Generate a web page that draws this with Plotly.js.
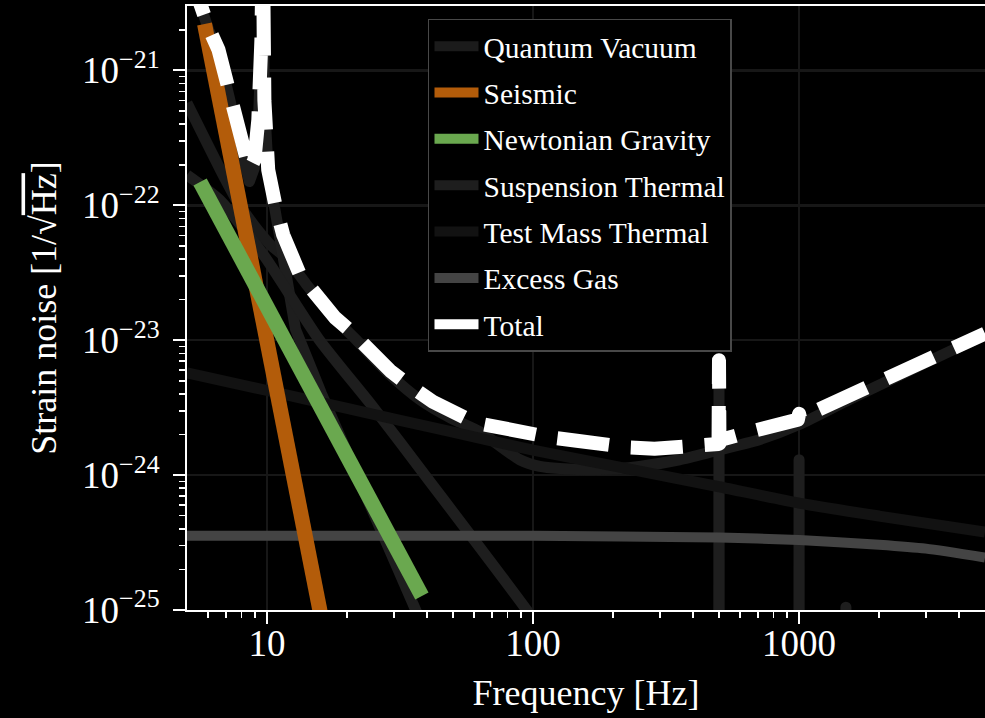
<!DOCTYPE html>
<html>
<head>
<meta charset="utf-8">
<script src="https://cdn.plot.ly/plotly-3.0.1.min.js"></script>
<style>
  html, body { margin: 0; padding: 0; background: #000; }
  #chart { width: 985px; height: 718px; }
  .scatterlayer path.js-line { stroke-linejoin: round !important; }
</style>
</head>
<body>
<div id="chart"></div>
<script>
// ---------------- data ----------------
const quantumF = [5, 6.68, 7.67, 8.89, 10.3, 11.8, 14.0, 17.3, 21.6, 29.0, 37.6, 48.7, 63.1, 89.1, 106, 126, 178, 251, 355, 471, 708, 1000, 1538, 2371, 3648, 5000];
const quantumV = [5.74e-22, 1.83e-22, 1.10e-22, 7.2e-23, 5.1e-23, 4.08e-23, 2.62e-23, 1.57e-23, 1.01e-23, 5.55e-24, 3.62e-24, 2.67e-24, 2.10e-24, 1.30e-24, 1.16e-24, 1.12e-24, 1.10e-24, 1.16e-24, 1.30e-24, 1.49e-24, 1.83e-24, 2.37e-24, 3.62e-24, 5.46e-24, 8.2e-24, 1.09e-23];

const seismicF = [5.82, 7, 8, 10, 12, 14, 15.9];
const seismicV = [2.21e-21, 3.48e-22, 9.1e-23, 9.7e-24, 1.56e-24, 3.3e-25, 9.3e-26];

const newtonF = [5.6, 8, 10, 15, 20, 30, 38.2];
const newtonV = [1.49e-22, 4.02e-23, 1.77e-23, 3.97e-24, 1.38e-24, 3.1e-25, 1.27e-25];

const suspF = [5, 5.53, 6.03, 6.57, 7.1, 7.67, 8.22, 8.58, 8.96, 9.27, 9.52, 9.64, 9.77, 10.1, 10.74, 11.5, 12.8, 16, 20.5, 27, 34.5, 50, 100, 300, 498, 500, 502, 997, 1000, 1003, 1497, 1500, 1503, 5000];
const suspV = [6e-21, 3.1e-21, 2.0e-21, 1.35e-21, 7.0e-22, 3.8e-22, 2.1e-22, 1.5e-22, 1.9e-22, 4.0e-22, 1.65e-21, 1e-20, 5.9e-22, 1.75e-22, 9.0e-23, 4.0e-23, 1.2e-23, 4.04e-24, 1.22e-24, 3.24e-25, 1.0e-25, 1.5e-26, 1e-27, 1e-28, 1e-28, 6.9e-24, 1e-28, 1e-28, 1.3e-24, 1e-28, 1e-28, 1.05e-25, 1e-28, 1e-28];

const suspVertF = [5, 6.62, 9.69, 15.7, 25.0, 39.6, 94.6, 120];
const suspVertV = [1.68e-22, 1.1e-22, 4.3e-23, 1.01e-23, 3.21e-24, 9.75e-25, 1.0e-25, 5e-26];

const testMassF = [5, 10, 20, 50, 100, 200, 500, 1000, 2000, 5000];
const testMassV = [5.74e-24, 4.24e-24, 3.12e-24, 2.08e-24, 1.53e-24, 1.17e-24, 8.2e-25, 6.2e-25, 4.97e-25, 3.78e-25];

const gasF = [5, 100, 500, 1000, 2000, 3000, 5000];
const gasV = [3.55e-25, 3.55e-25, 3.45e-25, 3.3e-25, 3.05e-25, 2.85e-25, 2.45e-25];

const totalF = [5, 5.53, 6.03, 6.57, 7.1, 7.67, 8.22, 8.58, 8.96, 9.27, 9.52, 9.64, 9.77, 10.1, 10.74, 11.5, 13.3, 15.6, 18.0, 20.9, 24.8, 29.0, 33.9, 42.0, 60.4, 78.3, 117, 146, 184, 232, 286, 355, 452, 498, 500, 502, 509, 638, 805, 933, 990, 1000, 1010, 1071, 1364, 1607, 2432, 2940, 4450, 5000];
const totalV = [6e-21, 3.2e-21, 2.07e-21, 1.42e-21, 7.4e-22, 4.08e-22, 2.37e-22, 1.83e-22, 2.17e-22, 4.3e-22, 1.68e-21, 1e-20, 6.0e-22, 1.83e-22, 1.01e-22, 6.04e-23, 3.05e-23, 2.07e-23, 1.47e-23, 1.14e-23, 7.8e-24, 5.95e-24, 4.68e-24, 3.5e-24, 2.45e-24, 2.17e-24, 1.9e-24, 1.8e-24, 1.68e-24, 1.6e-24, 1.57e-24, 1.6e-24, 1.68e-24, 1.7e-24, 7.1e-24, 1.72e-24, 1.83e-24, 2.07e-24, 2.37e-24, 2.5e-24, 2.58e-24, 2.85e-24, 2.63e-24, 2.8e-24, 3.5e-24, 4.08e-24, 5.74e-24, 6.93e-24, 1.01e-23, 1.12e-23];

const xTickVals = [10, 100, 1000];
const xTickText = ['10', '100', '1000'];
const xMinorVals = [6, 7, 8, 9, 20, 30, 40, 50, 60, 70, 80, 90, 200, 300, 400, 500, 600, 700, 800, 900, 2000, 3000, 4000];
const yTickVals = [1e-25, 1e-24, 1e-23, 1e-22, 1e-21];
const yTickText = ['10<sup>−25</sup>', '10<sup>−24</sup>', '10<sup>−23</sup>', '10<sup>−22</sup>', '10<sup>−21</sup>'];
const yMinorVals = [2e-25, 3e-25, 4e-25, 5e-25, 6e-25, 7e-25, 8e-25, 9e-25,
                    2e-24, 3e-24, 4e-24, 5e-24, 6e-24, 7e-24, 8e-24, 9e-24,
                    2e-23, 3e-23, 4e-23, 5e-23, 6e-23, 7e-23, 8e-23, 9e-23,
                    2e-22, 3e-22, 4e-22, 5e-22, 6e-22, 7e-22, 8e-22, 9e-22,
                    2e-21];

// ---------------- traces ----------------
function tr(name, x, y, color, width, rank, extra) {
  return Object.assign({
    type: 'scatter', mode: 'lines', name: name, x: x, y: y,
    line: {color: color, width: width},
    legendgroup: name, legendrank: rank, hoverinfo: 'skip'
  }, extra || {});
}

const traces = [
  tr('Quantum Vacuum', quantumF, quantumV, '#1b1b1b', 11, 1, {line: {color: '#1b1b1b', width: 11, shape: 'spline', smoothing: 0.6}}),
  tr('Suspension Thermal', suspF, suspV, '#1e1e1e', 11, 4),
  tr('Suspension Thermal (2)', suspVertF, suspVertV, '#1e1e1e', 11, 4, {legendgroup: 'Suspension Thermal', showlegend: false, line: {color: '#1e1e1e', width: 11, shape: 'spline', smoothing: 0.6}}),
  tr('Test Mass Thermal', testMassF, testMassV, '#121212', 11, 5, {line: {color: '#121212', width: 11, shape: 'spline', smoothing: 0.6}}),
  tr('Excess Gas', gasF, gasV, '#444444', 10, 6, {line: {color: '#444444', width: 10, shape: 'spline', smoothing: 0.6}}),
  tr('Seismic', seismicF, seismicV, '#b35c0a', 15, 2),
  tr('Newtonian Gravity', newtonF, newtonV, '#6aa84f', 15, 3),
  tr('Total', totalF, totalV, '#ffffff', 14, 7, {line: {color: '#ffffff', width: 14, dash: '52px,22px'}})
];

const axisCommon = {
  type: 'log', tickmode: 'array', ticks: 'outside', ticklen: 12, tickwidth: 2, tickcolor: '#ffffff',
  showline: true, linecolor: '#ffffff', linewidth: 2,
  showgrid: true, gridcolor: '#171717', gridwidth: 2.5, zeroline: false, automargin: false,
  tickfont: {size: 37, color: '#ffffff'}
};

const layout = {
  width: 985, height: 718,
  paper_bgcolor: '#000000', plot_bgcolor: '#000000',
  margin: {l: 187, r: 0, t: 6, b: 108, pad: 0},
  font: {family: '"Liberation Serif", "Times New Roman", serif', color: '#ffffff', size: 34},
  showlegend: true,
  legend: {
    x: 0.302, y: 0.9785, xanchor: 'left', yanchor: 'top',
    bgcolor: '#000000', bordercolor: '#484848', borderwidth: 1.5,
    font: {size: 29.5, color: '#ffffff'},
    traceorder: 'grouped', tracegroupgap: 5, itemwidth: 44
  },
  xaxis: Object.assign({}, axisCommon, {
    range: [Math.log10(5), Math.log10(5000)],
    tickvals: xTickVals, ticktext: xTickText, mirror: true,
    ticklabelstandoff: -12,
    minor: {tickmode: 'array', tickvals: xMinorVals, ticks: 'outside', ticklen: 6, tickwidth: 1.5, tickcolor: '#ffffff', showgrid: false},
    title: {text: 'Frequency [Hz]', font: {size: 36, color: '#ffffff'}, standoff: 16}
  }),
  yaxis: Object.assign({}, axisCommon, {
    range: [-25, -20.522],
    tickvals: yTickVals, ticktext: yTickText,
    ticklabelstandoff: 6,
    minor: {tickmode: 'array', tickvals: yMinorVals, ticks: 'outside', ticklen: 6, tickwidth: 1.5, tickcolor: '#ffffff', showgrid: false},
    title: {text: 'Strain noise [1/√<span style="text-decoration:overline">Hz</span>]', font: {size: 36, color: '#ffffff'}, standoff: 14}
  })
};

Plotly.newPlot('chart', traces, layout, {displayModeBar: false, staticPlot: true});
</script>
</body>
</html>
